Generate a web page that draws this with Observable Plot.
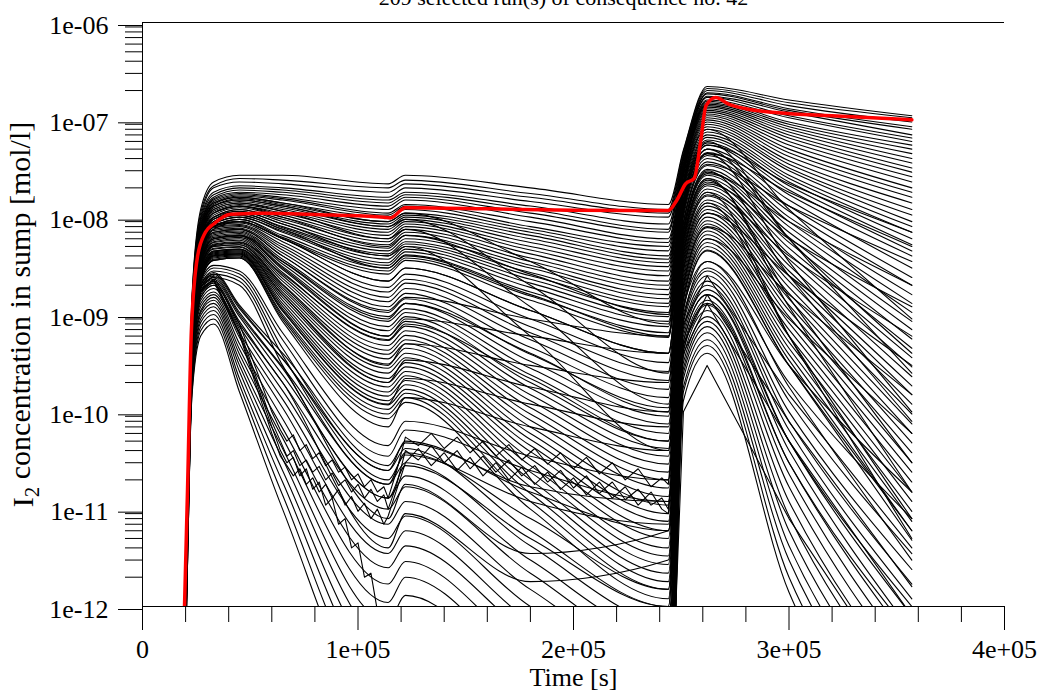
<!DOCTYPE html>
<html>
<head>
<meta charset="utf-8">
<script src="https://cdn.jsdelivr.net/npm/d3@7"></script>
<script src="https://cdn.jsdelivr.net/npm/@observablehq/plot@0.6"></script>
<style>
  body { margin: 0; background: #fff; }
</style>
</head>
<body>
<div id="chart"></div>
<script>
// Labels and ticks
const titleText = "209 selected run(s) of consequence no. 42";
const xTitle = "Time [s]";
const yTitleParts = ["I", "2", " concentration in sump [mol/l]"];
const xTicks = [0, 1e5, 2e5, 3e5, 4e5];
const xTickLabels = ["0", "1e+05", "2e+05", "3e+05", "4e+05"];
const yTicks = [1e-12, 1e-11, 1e-10, 1e-9, 1e-8, 1e-7, 1e-6];
const yTickLabels = ["1e-12", "1e-11", "1e-10", "1e-09", "1e-08", "1e-07", "1e-06"];

// Sample times (s) shared by the smooth runs
const runTimes = [19500, 23000, 27000, 33000, 45000, 65000, 114000, 122000, 180000, 244000, 251000, 262000, 300000, 357000];

// I2 concentration (mol/l) of each run at runTimes
const upperRuns = [
  [1e-13, 1.6e-9, 1.2e-8, 2.3e-8, 2.7e-8, 2.7e-8, 2.2e-8, 2.7e-8, 2e-8, 1.35e-8, 4.9e-8, 2.2e-7, 1.6e-7, 1.1e-7],
  [1e-13, 1.5e-9, 1.1e-8, 2.1e-8, 2.5e-8, 2.4e-8, 2e-8, 2.4e-8, 1.75e-8, 1.2e-8, 4.7e-8, 2.1e-7, 1.5e-7, 1.05e-7],
  [1e-13, 1.4e-9, 1e-8, 2e-8, 2.3e-8, 2.2e-8, 1.8e-8, 2.2e-8, 1.6e-8, 1.1e-8, 4.4e-8, 2e-7, 1.4e-7, 9.5e-8],
  [1e-13, 1.3e-9, 9.5e-9, 1.8e-8, 2.1e-8, 2e-8, 1.6e-8, 2e-8, 1.45e-8, 1e-8, 4.2e-8, 1.9e-7, 1.3e-7, 8.5e-8],
  [1e-13, 1.2e-9, 9e-9, 1.7e-8, 2e-8, 1.9e-8, 1.5e-8, 1.8e-8, 1.3e-8, 8.5e-9, 4.1e-8, 1.85e-7, 1.25e-7, 8e-8],
  [1e-13, 1.2e-9, 8.5e-9, 1.6e-8, 1.9e-8, 1.8e-8, 1.4e-8, 1.7e-8, 1.2e-8, 7.5e-9, 3.9e-8, 1.75e-7, 1.2e-7, 7e-8],
  [1e-13, 1.1e-9, 8e-9, 1.55e-8, 1.8e-8, 1.7e-8, 1.3e-8, 1.6e-8, 1.1e-8, 7e-9, 3.8e-8, 1.7e-7, 1.1e-7, 6.5e-8],
  [1e-13, 1.1e-9, 8e-9, 1.5e-8, 1.75e-8, 1.6e-8, 1.2e-8, 1.5e-8, 1e-8, 6e-9, 3.6e-8, 1.6e-7, 1.05e-7, 6e-8],
  [1e-13, 1e-9, 7.5e-9, 1.45e-8, 1.7e-8, 1.55e-8, 1.1e-8, 1.35e-8, 9e-9, 5.5e-9, 3.4e-8, 1.55e-7, 9.5e-8, 5.5e-8],
  [1e-13, 1e-9, 7.5e-9, 1.4e-8, 1.65e-8, 1.5e-8, 1.05e-8, 1.3e-8, 8e-9, 5e-9, 3.3e-8, 1.5e-7, 9e-8, 5e-8],
  [1e-13, 1e-9, 7e-9, 1.35e-8, 1.6e-8, 1.4e-8, 1e-8, 1.2e-8, 7.5e-9, 4.5e-9, 3.2e-8, 1.45e-7, 8.5e-8, 4.5e-8],
  [1e-13, 9.5e-10, 7e-9, 1.3e-8, 1.55e-8, 1.35e-8, 9e-9, 1.1e-8, 7e-9, 4e-9, 3.1e-8, 1.4e-7, 8e-8, 4e-8],
  [1e-13, 9e-10, 6.5e-9, 1.3e-8, 1.5e-8, 1.3e-8, 8.5e-9, 1.05e-8, 6.5e-9, 3.7e-9, 3e-8, 1.35e-7, 7.5e-8, 3.6e-8],
  [1e-13, 9e-10, 6.5e-9, 1.25e-8, 1.45e-8, 1.25e-8, 8e-9, 1e-8, 6e-9, 3.4e-9, 2.9e-8, 1.3e-7, 7e-8, 3.2e-8],
  [1e-13, 8.5e-10, 6e-9, 1.2e-8, 1.4e-8, 1.2e-8, 7.5e-9, 9.5e-9, 5.5e-9, 3.1e-9, 2.8e-8, 1.25e-7, 6.5e-8, 2.9e-8],
  [1e-13, 8.5e-10, 6e-9, 1.15e-8, 1.35e-8, 1.15e-8, 7e-9, 9e-9, 5e-9, 2.8e-9, 2.7e-8, 1.2e-7, 6e-8, 2.6e-8],
  [1e-13, 8e-10, 6e-9, 1.1e-8, 1.3e-8, 1.1e-8, 6.5e-9, 8.5e-9, 4.6e-9, 2.5e-9, 2.6e-8, 1.15e-7, 5.5e-8, 2.3e-8],
  [1e-13, 8e-10, 5.5e-9, 1.1e-8, 1.3e-8, 1.05e-8, 6e-9, 8e-9, 4.2e-9, 2.2e-9, 2.4e-8, 1.1e-7, 5e-8, 2e-8],
  [1e-13, 7.5e-10, 5.5e-9, 1.05e-8, 1.25e-8, 1e-8, 5.6e-9, 7.5e-9, 3.8e-9, 2e-9, 2.3e-8, 1.05e-7, 4.6e-8, 1.8e-8],
  [1e-13, 7.5e-10, 5.5e-9, 1e-8, 1.2e-8, 9.5e-9, 5.2e-9, 7e-9, 3.5e-9, 1.8e-9, 2.2e-8, 1e-7, 4.2e-8, 1.6e-8],
  [1e-13, 7e-10, 5e-9, 1e-8, 1.2e-8, 9e-9, 4.8e-9, 6.5e-9, 3.2e-9, 1.6e-9, 2.1e-8, 9.5e-8, 3.8e-8, 1.4e-8],
  [1e-13, 7e-10, 5e-9, 9.5e-9, 1.15e-8, 8.5e-9, 4.5e-9, 6e-9, 3e-9, 1.45e-9, 2e-8, 9e-8, 3.5e-8, 1.2e-8],
  [1e-13, 7e-10, 5e-9, 9.5e-9, 1.1e-8, 8e-9, 4.2e-9, 5.6e-9, 2.7e-9, 1.3e-9, 1.9e-8, 8.5e-8, 3.2e-8, 1.05e-8],
  [1e-13, 6.5e-10, 4.8e-9, 9e-9, 1.1e-8, 7.8e-9, 4e-9, 5.3e-9, 2.5e-9, 1.2e-9, 1.8e-8, 8e-8, 3e-8, 9e-9],
  [1e-13, 6.5e-10, 4.6e-9, 9e-9, 1.05e-8, 7.5e-9, 3.7e-9, 5e-9, 2.3e-9, 1.05e-9, 1.7e-8, 7.5e-8, 2.7e-8, 8e-9],
  [1e-13, 6.5e-10, 4.5e-9, 8.5e-9, 1e-8, 7.2e-9, 3.4e-9, 4.7e-9, 2.1e-9, 9.5e-10, 1.55e-8, 7e-8, 2.5e-8, 7e-9],
  [1e-13, 6e-10, 4.4e-9, 8.5e-9, 1e-8, 7e-9, 3.2e-9, 4.4e-9, 1.9e-9, 8.5e-10, 1.45e-8, 6.6e-8, 2.3e-8, 6e-9],
  [1e-13, 6e-10, 4.2e-9, 8e-9, 9.5e-9, 6.5e-9, 3e-9, 4.1e-9, 1.7e-9, 7.5e-10, 1.4e-8, 6.2e-8, 2.1e-8, 5.2e-9],
  [1e-13, 6e-10, 4.2e-9, 8e-9, 9.5e-9, 6.2e-9, 2.8e-9, 3.8e-9, 1.55e-9, 6.5e-10, 1.3e-8, 5.8e-8, 1.9e-8, 4.5e-9],
  [1e-13, 5.5e-10, 4e-9, 7.5e-9, 9e-9, 6e-9, 2.6e-9, 3.6e-9, 1.4e-9, 5.8e-10, 1.2e-8, 5.5e-8, 1.7e-8, 4e-9]
];

const middleRuns = [
  [1e-13, 9e-10, 5e-9, 8.5e-9, 9e-9, 6e-9, 2.2e-9, 3e-9, 1.1e-9, 4e-10, 1.25e-8, 5e-8, 1.5e-8, 3e-9],
  [1e-13, 8.5e-10, 4.8e-9, 8.2e-9, 8.7e-9, 5.6e-9, 1.9e-9, 2.6e-9, 9e-10, 3.2e-10, 1.15e-8, 4.6e-8, 1.3e-8, 2.4e-9],
  [1e-13, 8e-10, 4.6e-9, 8e-9, 8.4e-9, 5.2e-9, 1.7e-9, 2.3e-9, 7.5e-10, 2.6e-10, 1.1e-8, 4.3e-8, 1.15e-8, 2e-9],
  [1e-13, 8e-10, 4.5e-9, 7.8e-9, 8.2e-9, 4.9e-9, 1.5e-9, 2.1e-9, 6.5e-10, 2.1e-10, 1e-8, 4e-8, 1e-8, 1.6e-9],
  [1e-13, 7.5e-10, 4.4e-9, 7.5e-9, 8e-9, 4.6e-9, 1.35e-9, 1.85e-9, 5.5e-10, 1.7e-10, 9e-9, 3.7e-8, 9e-9, 1.3e-9],
  [1e-13, 7.5e-10, 4.3e-9, 7.3e-9, 7.7e-9, 4.3e-9, 1.2e-9, 1.65e-9, 4.6e-10, 1.4e-10, 8.5e-9, 3.4e-8, 8e-9, 1.05e-9],
  [1e-13, 7e-10, 4.2e-9, 7e-9, 7.5e-9, 4e-9, 1.05e-9, 1.45e-9, 3.9e-10, 1.1e-10, 7.8e-9, 3.1e-8, 7e-9, 8.5e-10],
  [1e-13, 7e-10, 4e-9, 6.8e-9, 7.2e-9, 3.7e-9, 9.5e-10, 1.3e-9, 3.3e-10, 9e-11, 7.2e-9, 2.9e-8, 6.2e-9, 7e-10],
  [1e-13, 6.5e-10, 3.9e-9, 6.6e-9, 7e-9, 3.5e-9, 8.5e-10, 1.15e-9, 2.8e-10, 7.5e-11, 6.8e-9, 2.7e-8, 5.5e-9, 5.6e-10],
  [1e-13, 6.5e-10, 3.8e-9, 6.4e-9, 6.8e-9, 3.3e-9, 7.5e-10, 1.05e-9, 2.4e-10, 6e-11, 6.2e-9, 2.5e-8, 4.8e-9, 4.5e-10],
  [1e-13, 6e-10, 3.7e-9, 6.2e-9, 6.6e-9, 3.1e-9, 6.8e-10, 9.5e-10, 2e-10, 5e-11, 5.8e-9, 2.3e-8, 4.2e-9, 3.6e-10],
  [1e-13, 6e-10, 3.6e-9, 6e-9, 6.4e-9, 2.9e-9, 6e-10, 8.5e-10, 1.75e-10, 4.2e-11, 5.2e-9, 2.1e-8, 3.7e-9, 2.9e-10],
  [1e-13, 5.8e-10, 3.5e-9, 5.8e-9, 6.2e-9, 2.7e-9, 5.4e-10, 7.6e-10, 1.5e-10, 3.5e-11, 4.9e-9, 1.95e-8, 3.2e-9, 2.3e-10],
  [1e-13, 5.6e-10, 3.4e-9, 5.6e-9, 6e-9, 2.5e-9, 4.8e-10, 6.8e-10, 1.3e-10, 2.9e-11, 4.5e-9, 1.8e-8, 2.8e-9, 1.85e-10],
  [1e-13, 5.4e-10, 3.3e-9, 5.5e-9, 5.8e-9, 2.35e-9, 4.3e-10, 6.1e-10, 1.1e-10, 2.4e-11, 4.1e-9, 1.65e-8, 2.5e-9, 1.5e-10],
  [1e-13, 5.2e-10, 3.2e-9, 5.3e-9, 5.6e-9, 2.2e-9, 3.9e-10, 5.5e-10, 9.5e-11, 2e-11, 3.8e-9, 1.5e-8, 2.2e-9, 1.2e-10],
  [1e-13, 5e-10, 3.1e-9, 5.1e-9, 5.4e-9, 2.05e-9, 3.5e-10, 5e-10, 8.2e-11, 1.65e-11, 3.5e-9, 1.4e-8, 1.9e-9, 9.5e-11],
  [1e-13, 5e-10, 3e-9, 5e-9, 5.2e-9, 1.9e-9, 3.1e-10, 4.5e-10, 7e-11, 1.35e-11, 3.2e-9, 1.3e-8, 1.65e-9, 7.5e-11],
  [1e-13, 4.8e-10, 2.9e-9, 4.8e-9, 5e-9, 1.8e-9, 2.8e-10, 4e-10, 6e-11, 1.1e-11, 3e-9, 1.2e-8, 1.45e-9, 6e-11],
  [1e-13, 4.6e-10, 2.8e-9, 4.7e-9, 4.9e-9, 1.7e-9, 2.5e-10, 3.6e-10, 5.2e-11, 9e-12, 2.8e-9, 1.1e-8, 1.25e-9, 4.8e-11],
  [1e-13, 4.5e-10, 2.7e-9, 4.5e-9, 4.7e-9, 1.6e-9, 2.2e-10, 3.2e-10, 4.5e-11, 7.5e-12, 2.5e-9, 1e-8, 1.1e-9, 3.8e-11],
  [1e-13, 4.4e-10, 2.6e-9, 4.4e-9, 4.6e-9, 1.5e-9, 2e-10, 2.9e-10, 3.9e-11, 6e-12, 2.3e-9, 9.2e-9, 9.5e-10, 3e-11],
  [1e-13, 4.2e-10, 2.5e-9, 4.3e-9, 4.5e-9, 1.4e-9, 1.8e-10, 2.6e-10, 3.3e-11, 5e-12, 2.1e-9, 8.5e-9, 8.2e-10, 2.4e-11],
  [1e-13, 4e-10, 2.5e-9, 4.2e-9, 4.4e-9, 1.3e-9, 1.6e-10, 2.35e-10, 2.8e-11, 4e-12, 1.95e-9, 7.8e-9, 7e-10, 1.9e-11],
  [1e-13, 4e-10, 2.4e-9, 4.1e-9, 4.3e-9, 1.22e-9, 1.45e-10, 2.1e-10, 2.4e-11, 3.3e-12, 1.8e-9, 7.2e-9, 6e-10, 1.5e-11],
  [1e-13, 3.8e-10, 2.4e-9, 4e-9, 4.2e-9, 1.15e-9, 1.3e-10, 1.9e-10, 2e-11, 2.7e-12, 1.65e-9, 6.6e-9, 5.2e-10, 1.2e-11],
  [1e-13, 3.8e-10, 2.3e-9, 3.9e-9, 4.1e-9, 1.08e-9, 1.18e-10, 1.7e-10, 1.7e-11, 2.2e-12, 1.5e-9, 6e-9, 4.5e-10, 9.5e-12],
  [1e-13, 3.6e-10, 2.3e-9, 3.8e-9, 4e-9, 1e-9, 1.06e-10, 1.55e-10, 1.45e-11, 1.8e-12, 1.4e-9, 5.5e-9, 3.9e-10, 7.5e-12],
  [1e-13, 3.6e-10, 2.2e-9, 3.7e-9, 3.9e-9, 9.5e-10, 9.5e-11, 1.4e-10, 1.2e-11, 1.5e-12, 1.25e-9, 5e-9, 3.4e-10, 6e-12],
  [1e-13, 3.5e-10, 2.2e-9, 3.6e-9, 3.8e-9, 9e-10, 8.5e-11, 1.25e-10, 1e-11, 1.2e-12, 1.15e-9, 4.6e-9, 3e-10, 4.8e-12]
];

// Runs whose decay rate changes between the phases, so they cross the others
const crossingRuns = [
  [1e-13, 7e-10, 4.2e-9, 7e-9, 7.5e-9, 4e-9, 1.1e-9, 1.5e-9, 9e-10, 6e-10, 1.4e-8, 5.5e-8, 2.2e-8, 7e-9],
  [1e-13, 6e-10, 3.6e-9, 6e-9, 6.4e-9, 3e-9, 6e-10, 9e-10, 6e-10, 4e-10, 1.1e-8, 4.5e-8, 1.8e-8, 5e-9],
  [1e-13, 5e-10, 3e-9, 5e-9, 5.2e-9, 2e-9, 3e-10, 5e-10, 3e-10, 2e-10, 8.8e-9, 3.5e-8, 1.3e-8, 3.5e-9],
  [1e-13, 4.5e-10, 2.7e-9, 4.5e-9, 4.7e-9, 1.6e-9, 2e-10, 3.4e-10, 1.8e-10, 1e-10, 7e-9, 2.8e-8, 9e-9, 2e-9],
  [1e-13, 4e-10, 2.4e-9, 4e-9, 4.2e-9, 1.1e-9, 1.2e-10, 2.2e-10, 1.2e-10, 7e-11, 5.5e-9, 2.2e-8, 6e-9, 1.2e-9],
  [1e-13, 3.5e-10, 2.2e-9, 3.6e-9, 3.8e-9, 8.5e-10, 7e-11, 1.4e-10, 7e-11, 4e-11, 4.2e-9, 1.7e-8, 4e-9, 6e-10],
  [1e-13, 1e-9, 7e-9, 1.3e-8, 1.5e-8, 1.3e-8, 8e-9, 9.5e-9, 2e-9, 2.5e-10, 7.5e-9, 3e-8, 2.5e-9, 8e-11],
  [1e-13, 9e-10, 6.5e-9, 1.2e-8, 1.4e-8, 1.15e-8, 6e-9, 7.5e-9, 1.2e-9, 1.2e-10, 6e-9, 2.4e-8, 1.5e-9, 3e-11],
  [1e-13, 1.1e-9, 7.5e-9, 1.4e-8, 1.6e-8, 1.4e-8, 9e-9, 1.1e-8, 3.5e-9, 8e-10, 1.25e-8, 5e-8, 6e-9, 4e-10],
  [1e-13, 8e-10, 5.5e-9, 1e-8, 1.15e-8, 8.5e-9, 4e-9, 5e-9, 6e-10, 4e-11, 3.5e-9, 1.4e-8, 6e-10, 8e-12],
  [1e-13, 8.5e-10, 6e-9, 1.1e-8, 1.3e-8, 1e-8, 5e-9, 6.5e-9, 2.6e-9, 1e-9, 2e-8, 8e-8, 1.2e-8, 9e-10],
  [1e-13, 7.5e-10, 5e-9, 9e-9, 1.05e-8, 7.5e-9, 3e-9, 4e-9, 1.6e-9, 6e-10, 1.5e-8, 6e-8, 6e-9, 2.5e-10],
  [1e-13, 6.5e-10, 4.4e-9, 8e-9, 9e-9, 6e-9, 2.2e-9, 3e-9, 1.1e-9, 4e-10, 1.1e-8, 4.5e-8, 3.5e-9, 1e-10],
  [1e-13, 5.5e-10, 3.5e-9, 6e-9, 6.5e-9, 3.5e-9, 9e-10, 1.3e-9, 4e-10, 1e-10, 6.2e-9, 2.5e-8, 1.2e-9, 1.5e-11],
  [1e-13, 5e-10, 3e-9, 5.2e-9, 5.5e-9, 2.6e-9, 5.5e-10, 8e-10, 2.2e-10, 5e-11, 4.5e-9, 1.8e-8, 6e-10, 5e-12],
  [1e-13, 4.5e-10, 2.2e-9, 3.2e-9, 2.8e-9, 6.5e-10, 4.5e-11, 8e-11, 3.5e-11, 2e-11, 2.8e-9, 1.1e-8, 2.5e-9, 3e-10],
  [1e-13, 4.2e-10, 2.1e-9, 3e-9, 2.6e-9, 5.5e-10, 3.5e-11, 6.5e-11, 2.5e-11, 1.2e-11, 2e-9, 8e-9, 1.6e-9, 1.5e-10],
  [1e-13, 4e-10, 2e-9, 2.8e-9, 2.4e-9, 4.5e-10, 2.5e-11, 5e-11, 1.5e-11, 6e-12, 1.5e-9, 6e-9, 9e-10, 6e-11],
  [1e-13, 3.7e-10, 1.85e-9, 2.6e-9, 2.2e-9, 3.8e-10, 1.8e-11, 3.8e-11, 8e-12, 1.5e-12, 1.1e-9, 4.5e-9, 3e-10, 6e-12],
  [1e-13, 3.4e-10, 1.7e-9, 2.4e-9, 2e-9, 3e-10, 1.3e-11, 2.8e-11, 5e-12, 1e-12, 8.8e-10, 3.5e-9, 1.8e-10, 3e-12]
];

// Runs that fall off quickly after the first peak
const lowerRuns = [
  [1e-13, 5e-10, 2e-9, 2.6e-9, 1.2e-9, 3.5e-10, 2.5e-11, 4.2e-11, 6e-12, 1e-12, 9e-10, 2.8e-9, 1.3e-10, 3.5e-12],
  [1e-13, 4.6e-10, 1.85e-9, 2.4e-9, 1.05e-9, 2.9e-10, 1.8e-11, 3e-11, 4.2e-12, 7e-13, 8.3e-10, 2.5e-9, 1e-10, 2.4e-12],
  [1e-13, 4.2e-10, 1.7e-9, 2.2e-9, 9.5e-10, 2.4e-10, 1.3e-11, 2.2e-11, 3e-12, 5e-13, 7.3e-10, 2.2e-9, 8e-11, 1.7e-12],
  [1e-13, 4e-10, 1.6e-9, 2.1e-9, 8.5e-10, 2e-10, 1e-11, 1.7e-11, 2.2e-12, 3.5e-13, 6.7e-10, 2e-9, 6.5e-11, 1.2e-12],
  [1e-13, 3.8e-10, 1.5e-9, 2e-9, 7.5e-10, 1.65e-10, 7e-12, 1.2e-11, 1.5e-12, 2.5e-13, 6e-10, 1.8e-9, 5e-11, 8e-13],
  [1e-13, 3.5e-10, 1.4e-9, 1.85e-9, 6.5e-10, 1.35e-10, 5e-12, 8.5e-12, 1e-12, 1.8e-13, 5.3e-10, 1.6e-9, 4e-11, 5.5e-13],
  [1e-13, 3.2e-10, 1.3e-9, 1.7e-9, 5.8e-10, 1.1e-10, 3.5e-12, 6e-12, 7e-13, 1.2e-13, 4.7e-10, 1.4e-9, 3e-11, 4e-13],
  [1e-13, 3e-10, 1.2e-9, 1.6e-9, 5e-10, 8.5e-11, 2.5e-12, 4.2e-12, 5e-13, 8e-14, 4.2e-10, 1.25e-9, 2.3e-11, 2.8e-13],
  [1e-13, 2.8e-10, 1.1e-9, 1.5e-9, 4.4e-10, 6.8e-11, 1.7e-12, 2.9e-12, 3.2e-13, 5e-14, 3.7e-10, 1.1e-9, 1.7e-11, 2e-13],
  [1e-13, 2.6e-10, 1.05e-9, 1.4e-9, 3.9e-10, 5.4e-11, 1.1e-12, 2e-12, 2.1e-13, 3e-14, 3.2e-10, 9.5e-10, 1.2e-11, 1.4e-13],
  [1e-13, 2.4e-10, 9.8e-10, 1.3e-9, 3.4e-10, 4.2e-11, 7e-13, 1.3e-12, 1.4e-13, 2e-14, 2.8e-10, 8.5e-10, 8.5e-12, 1e-13],
  [1e-13, 2.2e-10, 9e-10, 1.2e-9, 3e-10, 3.3e-11, 4.5e-13, 8e-13, 1e-13, 1.5e-14, 2.5e-10, 7.5e-10, 6e-12, 7e-14],
  [1e-13, 2e-10, 8.3e-10, 1.1e-9, 2.6e-10, 2.5e-11, 2.8e-13, 5e-13, 6e-14, 1e-14, 2.2e-10, 6.5e-10, 4.2e-12, 5e-14],
  [1e-13, 1.8e-10, 7.5e-10, 1e-9, 2.2e-10, 1.9e-11, 1.7e-13, 3e-13, 4e-14, 1e-14, 1.8e-10, 5.5e-10, 3e-12, 3.5e-14],
  [1e-13, 1.6e-10, 6.8e-10, 9e-10, 1.9e-10, 1.4e-11, 1e-13, 1.8e-13, 2.5e-14, 1e-14, 1.6e-10, 4.8e-10, 2e-12, 2.5e-14],
  [1e-13, 1.5e-10, 6e-10, 8e-10, 1.6e-10, 1e-11, 6e-14, 1.1e-13, 1.5e-14, 1e-14, 1.3e-10, 4e-10, 1.4e-12, 1.8e-14],
  [1e-13, 4.4e-10, 1.75e-9, 2.3e-9, 1e-9, 2.8e-10, 8e-12, 1.8e-11, 3.5e-12, 6e-12, 5.3e-10, 1.6e-9, 5e-11, 1e-12],
  [1e-13, 3.8e-10, 1.5e-9, 2e-9, 8e-10, 2e-10, 4e-12, 9e-12, 1.8e-12, 3e-12, 4.3e-10, 1.3e-9, 3e-11, 5e-13],
  [1e-13, 4.8e-10, 1.9e-9, 2.5e-9, 1.15e-9, 3.5e-10, 2e-11, 3.6e-11, 1.2e-11, 7e-12, 1e-9, 3e-9, 2e-10, 8e-12],
  [1e-13, 5.2e-10, 2.05e-9, 2.7e-9, 1.25e-9, 4e-10, 2.8e-11, 4.8e-11, 1.7e-11, 1.2e-11, 1.2e-9, 3.5e-9, 3e-10, 1.5e-11]
];

// Runs with a jagged (oscillating) trace, sampled more densely
const noisyTimes = [19500, 23000, 27000, 33000, 45000, 60000, 64000, 67000, 70000, 73000, 76000, 79000, 82000, 85000, 88000, 91000, 94000, 97000, 100000, 103000, 106000, 109000, 112000, 114000, 118000, 122000, 128000, 134000, 140000, 146000, 152000, 158000, 164000, 170000, 176000, 182000, 188000, 194000, 200000, 206000, 212000, 218000, 224000, 230000, 236000, 241000, 244000, 251000, 262000, 300000, 357000];
const noisyRuns = [
  [1e-13, 4.5e-10, 1.8e-9, 2.3e-9, 7e-10, 7.9e-11, 5e-11, 3.5e-11, 4e-11, 2.8e-11, 3.2e-11, 2.4e-11, 2.75e-11, 2e-11, 2.35e-11, 1.75e-11, 2e-11, 1.5e-11, 1.8e-11, 1.3e-11, 1.6e-11, 1.2e-11, 1.4e-11, 1e-11, 1.8e-11, 4e-11, 3.2e-11, 4.5e-11, 3e-11, 4e-11, 2.6e-11, 3.5e-11, 2.4e-11, 3.2e-11, 2.2e-11, 2.8e-11, 1.9e-11, 2.5e-11, 1.65e-11, 2.2e-11, 1.45e-11, 1.9e-11, 1.25e-11, 1.6e-11, 1.1e-11, 1.3e-11, 1e-11, 5e-10, 1.6e-9, 7.9e-11, 1.6e-12],
  [1e-13, 4.2e-10, 1.7e-9, 2.2e-9, 6.2e-10, 6e-11, 3.5e-11, 2.8e-11, 2.2e-11, 2.6e-11, 1.8e-11, 2.1e-11, 1.5e-11, 1.8e-11, 1.3e-11, 1.6e-11, 1.1e-11, 1.35e-11, 9.5e-12, 1.15e-11, 8e-12, 1e-11, 7e-12, 8.5e-12, 1.6e-11, 3e-11, 4.2e-11, 2.8e-11, 3.8e-11, 2.5e-11, 3.4e-11, 2.2e-11, 3e-11, 2e-11, 2.7e-11, 1.8e-11, 2.4e-11, 1.6e-11, 2.1e-11, 1.4e-11, 1.9e-11, 1.3e-11, 1.7e-11, 1.1e-11, 1.5e-11, 1e-11, 9e-12, 4e-10, 1.3e-9, 5e-11, 8e-13],
  [1e-13, 4.8e-10, 1.95e-9, 2.5e-9, 8e-10, 1e-10, 6.5e-11, 5e-11, 5.8e-11, 4e-11, 4.6e-11, 3.3e-11, 3.8e-11, 2.8e-11, 3.2e-11, 2.4e-11, 2.7e-11, 2e-11, 2.3e-11, 1.7e-11, 2e-11, 1.5e-11, 1.7e-11, 1.3e-11, 2.5e-11, 5.5e-11, 4.5e-11, 6e-11, 4.2e-11, 5.5e-11, 3.8e-11, 5e-11, 3.5e-11, 4.6e-11, 3.2e-11, 4.2e-11, 2.9e-11, 3.8e-11, 2.6e-11, 3.4e-11, 2.3e-11, 3e-11, 2e-11, 2.6e-11, 1.7e-11, 2.1e-11, 1.8e-11, 8e-10, 2.5e-9, 1.5e-10, 4e-12],
  [1e-13, 4.4e-10, 1.75e-9, 2.3e-9, 6.5e-10, 7e-11, 4e-11, 3e-11, 3.4e-11, 2.2e-11, 2.6e-11, 1.6e-11, 1.9e-11, 1.1e-11, 1.3e-11, 7e-12, 8e-12, 4e-12, 4.5e-12, 2e-12, 2.2e-12, 9e-13, 6e-13, 4e-13, 6e-13, 1e-12, 6e-13, 4e-13, 3e-13, 2e-13, 1.5e-13, 1e-13, 8e-14, 6e-14, 5e-14, 4e-14, 3e-14, 3e-14, 2e-14, 2e-14, 2e-14, 1.5e-14, 1.5e-14, 1e-14, 1e-14, 1e-14, 1e-14, 1e-10, 3e-10, 8e-12, 1e-13]
];

// Highlighted run (drawn in red)
const highlightTimes = [19500, 20900, 22700, 25500, 29200, 33000, 40800, 56600, 87800, 112000, 115000, 122000, 160000, 200000, 244000, 248000, 252000, 256000, 259000, 261500, 266000, 272000, 280000, 295000, 320000, 357000];
const highlightRun = [1e-12, 1.6e-11, 7e-10, 3.9e-9, 7e-9, 8.5e-9, 1.07e-8, 1.1e-8, 1.05e-8, 1.0e-8, 9.8e-9, 1.25e-8, 1.22e-8, 1.18e-8, 1.17e-8, 1.5e-8, 2.2e-8, 2.5e-8, 6e-8, 1.4e-7, 1.7e-7, 1.45e-7, 1.3e-7, 1.18e-7, 1.1e-7, 1.0e-7];

// Long-format tables for the line marks
const smoothRows = [];
let runId = 0;
for (const group of [upperRuns, middleRuns, crossingRuns, lowerRuns]) {
  for (const run of group) {
    run.forEach((c, i) => smoothRows.push({run: runId, t: runTimes[i], c}));
    runId++;
  }
}
const noisyRows = [];
noisyRuns.forEach((run, k) => run.forEach((c, i) => noisyRows.push({run: k, t: noisyTimes[i], c})));
const highlightRows = highlightRun.map((c, i) => ({t: highlightTimes[i], c}));

// Minor ticks: every 2e4 s on x, 2..9 per decade on y
const xMinor = d3.range(1, 20).map(k => k * 2e4).filter(t => t % 1e5 !== 0);
const yMinor = [];
for (let e = -12; e < -6; e++) for (let m = 2; m <= 9; m++) yMinor.push(m * Math.pow(10, e));

const font = "'Liberation Serif', 'Times New Roman', Times, serif";
const yTitleText = yTitleParts.join("");

const chart = Plot.plot({
  width: 1040,
  height: 691,
  marginLeft: 142,
  marginRight: 36,
  marginTop: 22,
  marginBottom: 85,
  style: {fontFamily: font, fontSize: "26px", background: "#fff", color: "#000"},
  x: {domain: [0, 4e5]},
  y: {type: "log", domain: [1e-12, 1e-6]},
  marks: [
    Plot.line(smoothRows, {x: "t", y: "c", z: "run", stroke: "#000", strokeWidth: 1.1, curve: "monotone-x", clip: true}),
    Plot.line(noisyRows, {x: "t", y: "c", z: "run", stroke: "#000", strokeWidth: 1.1, curve: "linear", clip: true}),
    Plot.line(highlightRows, {x: "t", y: "c", stroke: "#ff0000", strokeWidth: 3.5, curve: "monotone-x", clip: true}),
    Plot.ruleY([1e-6], {stroke: "#000"}),
    Plot.ruleY([1e-12], {stroke: "#000"}),
    Plot.ruleX([0], {stroke: "#000"}),
    Plot.axisX(xTicks, {tickSize: 24, tickPadding: 9, tickFormat: d => xTickLabels[xTicks.indexOf(d)], label: null}),
    Plot.axisX(xMinor, {tickSize: 16, tickFormat: () => "", label: null}),
    Plot.axisY(yTicks, {tickSize: 24, tickPadding: 10, dy: 3, tickFormat: d => yTickLabels[yTicks.indexOf(d)], label: null}),
    Plot.axisY(yMinor, {tickSize: 17, tickFormat: () => "", label: null}),
    Plot.text([xTitle], {frameAnchor: "bottom", lineAnchor: "middle", dy: 71}),
    Plot.text([yTitleText], {frameAnchor: "left", textAnchor: "middle", lineAnchor: "middle", rotate: -90, dx: -119, fontSize: 30}),
    Plot.text([titleText], {frameAnchor: "top", textAnchor: "middle", lineAnchor: "middle", dy: -25, dx: -10, fontSize: 22})
  ]
});

// Set the "2" of I2 as a subscript
d3.select(chart).selectAll("text")
  .filter(function () { return this.textContent === yTitleText; })
  .each(function () {
    const t = d3.select(this);
    t.text(null);
    t.append("tspan").text(yTitleParts[0]);
    t.append("tspan").attr("dy", "0.3em").attr("font-size", "0.7em").text(yTitleParts[1]);
    t.append("tspan").attr("dy", "-0.3em").text(yTitleParts[2]);
  });

document.getElementById("chart").appendChild(chart);
</script>
</body>
</html>
